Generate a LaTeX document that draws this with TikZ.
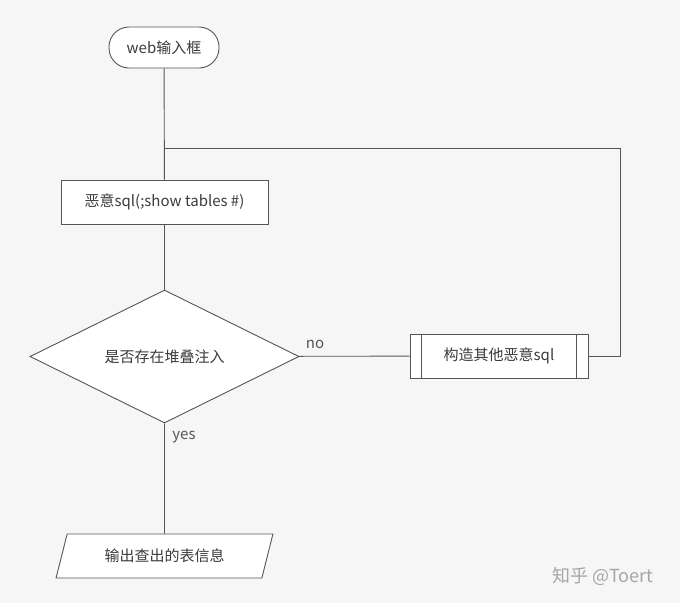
\documentclass[tikz,border=0pt]{standalone}
\usepackage{fontspec}
\setmainfont{Noto Sans CJK SC}
\usetikzlibrary{shapes.geometric}
\definecolor{ln}{HTML}{555555}
\definecolor{bg}{HTML}{F6F6F6}
\begin{document}
\begin{tikzpicture}[x=1pt,y=-1pt,
  base/.style={draw=ln,fill=white,line width=0.9pt,font=\fontsize{15}{17}\selectfont,text=ln!70!black,inner sep=0pt},
  wire/.style={draw=ln,line width=0.9pt}]
\fill[bg] (0,0) rectangle (680,603);
\useasboundingbox (0,0) rectangle (680,603);
\node[base,rounded corners=20pt,minimum width=110pt,minimum height=41pt] (web) at (164,47.5) {web输入框};
\node[base,minimum width=207pt,minimum height=44pt] (sql) at (164.5,202) {恶意sql(;show tables \#)};
\node[base,diamond,aspect=2.02,minimum width=269pt,minimum height=133pt] (dec) at (164.5,356.5) {是否存在堆叠注入};
\node[base,minimum width=178pt,minimum height=44pt] (other) at (499,356) {构造其他恶意sql};
\draw[ln,line width=0.9pt] ([xshift=12pt]other.north west) -- ([xshift=12pt]other.south west)
  ([xshift=-12pt]other.north east) -- ([xshift=-12pt]other.south east);
\node[base,trapezium,trapezium left angle=64,trapezium right angle=116,minimum width=217pt,minimum height=44pt,trapezium stretches=true] (out) at (164.5,556) {输出查出的表信息};
\coordinate (c1) at (620,356);
\coordinate (c2) at (620,148);
\coordinate (c3) at (164.5,148);
\draw[wire] (web) -- (sql);
\draw[wire] (sql) -- (dec);
\draw[wire] (dec) -- (out);
\draw[wire] (dec) -- (other);
\draw[wire] (other.east) -- (c1) -- (c2) -- (c3);
\node[font=\fontsize{15}{17}\selectfont,text=ln] (no) at (315,344) {no};
\node[font=\fontsize{15}{17}\selectfont,text=ln] (yes) at (184,437) {yes};
\node[font=\fontsize{18}{20}\selectfont,text=gray!70] (wm) at (603,576) {知乎 @Toert};
\end{tikzpicture}
\end{document}
